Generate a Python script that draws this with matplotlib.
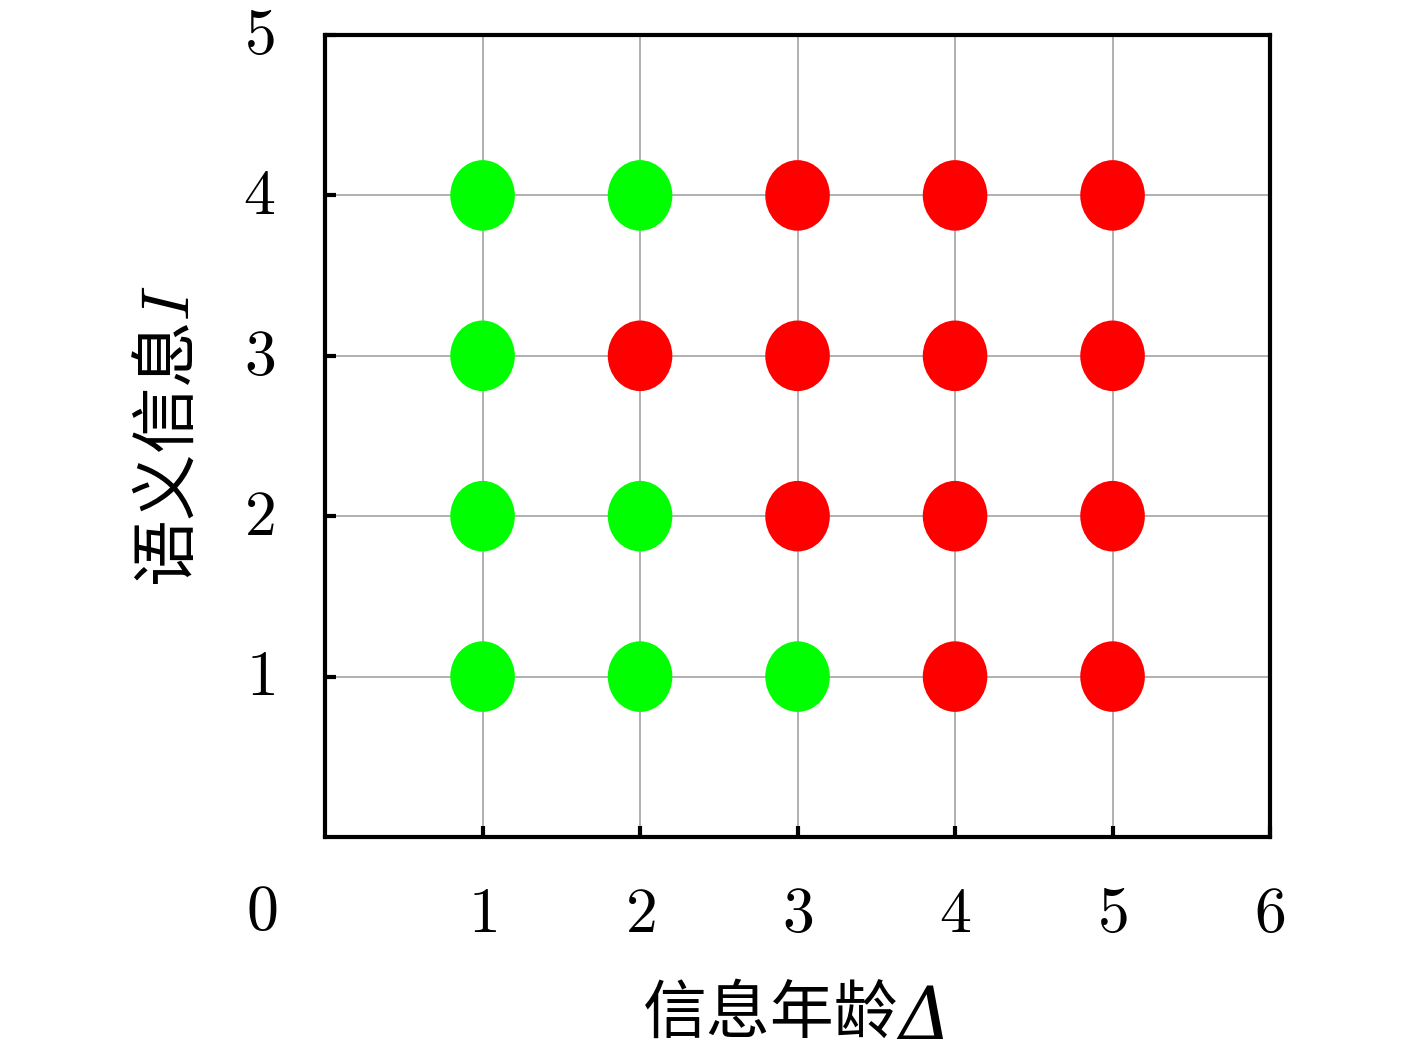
import matplotlib
matplotlib.use("Agg")
import matplotlib.pyplot as plt
import matplotlib.transforms as mtransforms
from matplotlib.patches import Ellipse

plt.rcParams['font.family'] = ['Noto Sans CJK SC', 'DejaVu Sans']
plt.rcParams['mathtext.fontset'] = 'cm'

# 数据: 信息年龄 Δ (列) 与 语义信息 I (行)
ages = [1, 2, 3, 4, 5]
infos = [1, 2, 3, 4]
# 1 = 绿色, 0 = 红色
status = [
    [1, 1, 1, 0, 0],  # I = 1
    [1, 1, 0, 0, 0],  # I = 2
    [1, 0, 0, 0, 0],  # I = 3
    [1, 1, 0, 0, 0],  # I = 4
]
x_ticks = [1, 2, 3, 4, 5, 6]
y_ticks = [1, 2, 3, 4, 5]

fig = plt.figure(figsize=(14.17, 10.58), dpi=100)
ax = fig.add_axes([0.2294, 0.2089, 0.6669, 0.758])
ax.set_xlim(0, 6)
ax.set_ylim(0, 5)

for i, row in zip(infos, status):
    for a, s in zip(ages, row):
        c = '#00ff00' if s else '#ff0000'
        ax.add_patch(Ellipse((a, i), 0.41, 0.44, color=c, zorder=3, lw=0))

ax.set_xticks(x_ticks)
ax.set_xticklabels(['$%d$' % t for t in x_ticks])
ax.set_yticks(y_ticks)
ax.set_yticklabels(['$%d$' % t for t in y_ticks])
ax.grid(True, color='#aaaaaa', lw=1.3, zorder=0)
ax.set_axisbelow(True)
ax.tick_params(direction='in', length=8, width=3, labelsize=46, pad=0)
ax.tick_params(axis='x', pad=31)
ax.tick_params(axis='y', pad=36)
for sp in ax.spines.values():
    sp.set_linewidth(3)

# y 刻度标签稍微上移
up = mtransforms.ScaledTranslation(0, 7 / 100, fig.dpi_scale_trans)
for lb in ax.get_yticklabels():
    lb.set_transform(lb.get_transform() + up)

# 原点标签 0
fig.text(262 / 1417, 1 - 912 / 1058, '$0$', fontsize=46, ha='center', va='center')

# x 轴标签: 中文 + 斜体 Δ
ly = 1 - 1015 / 1058
fig.text(898 / 1417, ly, '信息年龄', fontsize=46, ha='right', va='center')
fig.text(898 / 1417, ly - 0.004, 'Δ', fontsize=52, ha='left', va='center',
         family='DejaVu Serif', style='italic')
ax.set_ylabel('语义信息$\\mathit{I}$', fontsize=48, labelpad=28)

fig.savefig('out.png', dpi=100)
